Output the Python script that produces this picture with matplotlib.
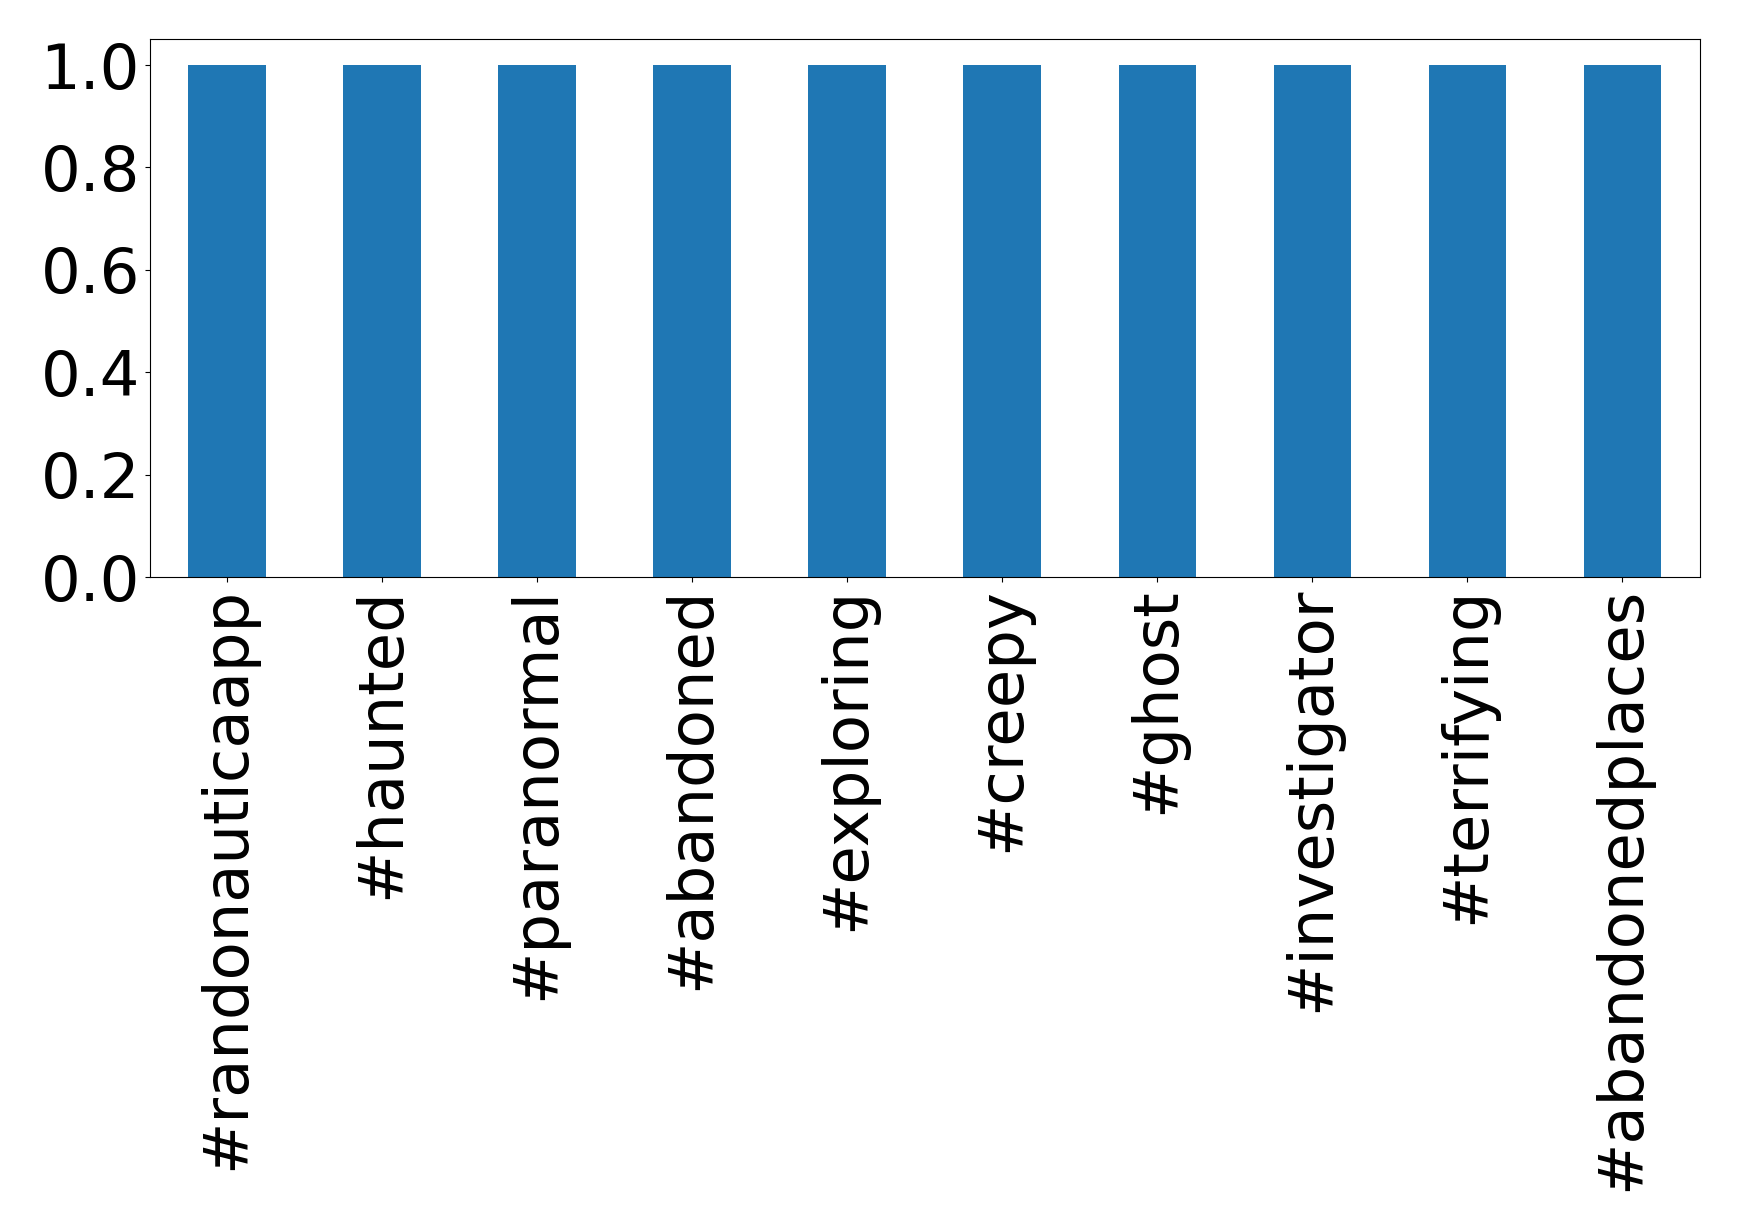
import matplotlib
matplotlib.use("Agg")
import matplotlib.pyplot as plt
import numpy as np

hashtags = ["#randonauticaapp", "#haunted", "#paranormal", "#abandoned", "#exploring",
            "#creepy", "#ghost", "#investigator", "#terrifying", "#abandonedplaces"]
counts = [1, 1, 1, 1, 1, 1, 1, 1, 1, 1]

fig = plt.figure(figsize=(17.39, 12.32), dpi=100)
ax = fig.add_axes([0.086, 0.5315, 0.8915, 0.4365])

x = np.arange(len(hashtags))
ax.bar(x, counts, width=0.5, color="#1f77b4")
ax.set_xlim(-0.5, len(hashtags) - 0.5)
ax.set_ylim(0, 1.05)
ax.set_xticks(x)
ax.set_xticklabels(hashtags, rotation=90, fontsize=45)
ax.set_yticks([0.0, 0.2, 0.4, 0.6, 0.8, 1.0])
ax.tick_params(axis="y", labelsize=45)

fig.savefig("out.png", dpi=100)
